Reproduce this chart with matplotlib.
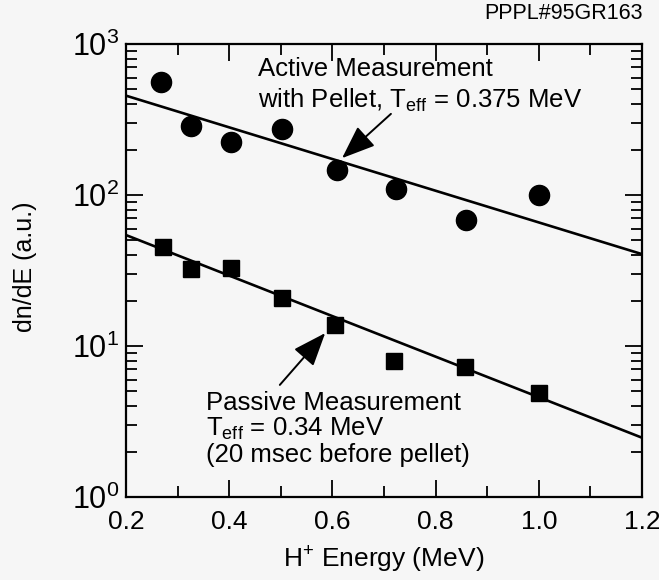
import numpy as np
import matplotlib
matplotlib.use("Agg")
import matplotlib.pyplot as plt
from matplotlib.ticker import LogLocator, MultipleLocator, NullFormatter

plt.rcParams['font.family'] = ['Liberation Sans', 'DejaVu Sans']
plt.rcParams['mathtext.fontset'] = 'custom'
plt.rcParams['mathtext.rm'] = 'Liberation Sans'
plt.rcParams['mathtext.it'] = 'Liberation Sans'

# data
active_E = [0.268, 0.326, 0.403, 0.502, 0.608, 0.723, 0.858, 1.001]
active_dn = [557, 286, 225, 272, 146, 109, 68, 100]
passive_E = [0.272, 0.326, 0.403, 0.502, 0.605, 0.720, 0.857, 1.001]
passive_dn = [45.5, 32.4, 33, 20.7, 13.8, 7.96, 7.3, 4.86]

# fitted lines (end points at E = 0.2 and 1.2)
fit_E = [0.2, 1.2]
active_fit = [455, 40.6]
passive_fit = [54.3, 2.47]

bg = '#f6f6f6'
fig = plt.figure(figsize=(6.59, 5.8), dpi=100, facecolor=bg)
ax = fig.add_axes([0.1912, 0.1431, 0.7830, 0.7810], facecolor=bg)

ax.set_yscale('log')
ax.set_xlim(0.2, 1.2)
ax.set_ylim(1, 1000)

ax.plot(fit_E, active_fit, color='black', lw=1.9)
ax.plot(fit_E, passive_fit, color='black', lw=1.9)
ax.plot(active_E, active_dn, 'o', color='black', ms=14.5)
ax.plot(passive_E, passive_dn, 's', color='black', ms=12)

for s in ax.spines.values():
    s.set_linewidth(1.6)

ax.xaxis.set_major_locator(MultipleLocator(0.2))
ax.xaxis.set_minor_locator(MultipleLocator(0.1))
ax.xaxis.set_major_formatter(plt.FuncFormatter(lambda v, p: f'{v:.1f}'))
ax.yaxis.set_major_locator(LogLocator(base=10, numticks=10))
ax.yaxis.set_minor_locator(LogLocator(base=10, subs=np.arange(2, 10), numticks=20))
ax.yaxis.set_minor_formatter(NullFormatter())
ax.yaxis.set_major_formatter(plt.FuncFormatter(lambda v, p: r'$10^{%d}$' % round(np.log10(v))))

ax.tick_params(which='both', direction='in', top=True, right=True, width=1.3)
ax.tick_params(which='major', length=12)
ax.tick_params(which='minor', length=8)
ax.tick_params(axis='x', labelsize=19, pad=9)
ax.tick_params(axis='y', labelsize=22, pad=5)

ax.set_xlabel(r'H$^{+}$ Energy (MeV)', fontsize=19, labelpad=8)
ax.set_ylabel('dn/dE (a.u.)', fontsize=18)
ax.yaxis.set_label_coords(37 / 659, 1 - 267 / 580, transform=fig.transFigure)

fs = 18.5
ax.text(258 / 659, 1 - 76 / 580, 'Active Measurement', transform=fig.transFigure,
        fontsize=fs, va='baseline')
ax.text(258 / 659, 1 - 108 / 580, r'with Pellet, T$_{\rm eff}$ = 0.375 MeV',
        transform=fig.transFigure, fontsize=fs, va='baseline')
passive_lines = ['Passive Measurement', r'T$_{\rm eff}$ = 0.34 MeV', '(20 msec before pellet)']
for line, yb in zip(passive_lines, [410, 436, 462]):
    ax.text(206 / 659, 1 - yb / 580, line, transform=fig.transFigure,
            fontsize=fs, va='baseline')

fig.text(643 / 659, 1 - 19 / 580, 'PPPL#95GR163', fontsize=15.5, ha='right', va='baseline')

arrow = dict(arrowstyle='-|>,head_length=0.9,head_width=0.35', color='black', lw=1.4,
             mutation_scale=23)
ax.annotate('', xy=(340 / 659, 1 - 160 / 580), xytext=(393 / 659, 1 - 112 / 580),
            xycoords='figure fraction', textcoords='figure fraction', arrowprops=arrow)
ax.annotate('', xy=(327 / 659, 1 - 331 / 580), xytext=(278 / 659, 1 - 387 / 580),
            xycoords='figure fraction', textcoords='figure fraction', arrowprops=arrow)

fig.savefig('out.png', dpi=100, facecolor=bg)
